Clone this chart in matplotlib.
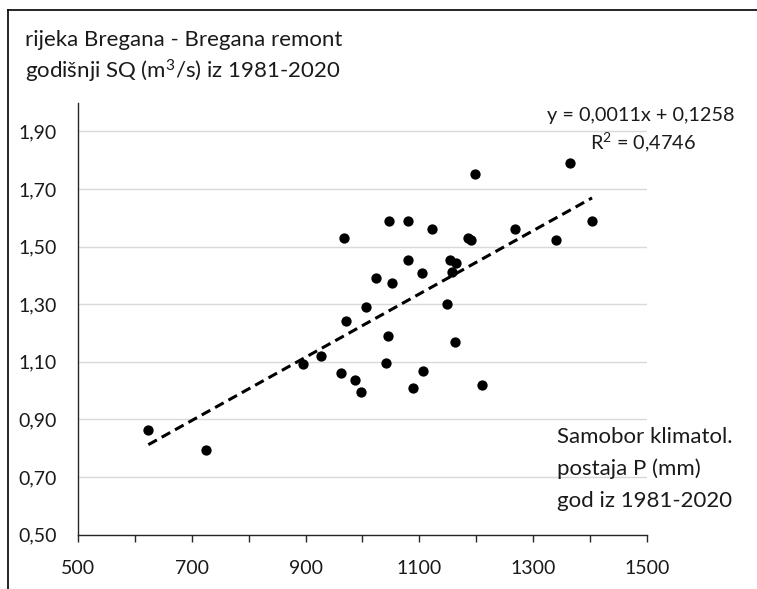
import matplotlib
matplotlib.use("Agg")
import matplotlib.pyplot as plt
from matplotlib.lines import Line2D
from matplotlib.ticker import FixedLocator, MultipleLocator, FuncFormatter

plt.rcParams['font.family'] = ['Lato', 'DejaVu Sans']
plt.rcParams['mathtext.fontset'] = 'custom'
plt.rcParams['mathtext.rm'] = 'Lato'
plt.rcParams['mathtext.it'] = 'Lato'
plt.rcParams['mathtext.default'] = 'rm'

# ── data ─────────────────────────────────────────────────────────────────────
precip_mm = [624, 726, 896, 927, 963, 986, 997, 1042, 1044, 1107, 1088, 1162,
             1210, 971, 1007, 1051, 1024, 1105, 1158, 1164, 1154, 1080, 1149,
             967, 1047, 1080, 1122, 1186, 1190, 1268, 1198, 1365, 1403, 1340]
flow_sq = [0.862, 0.794, 1.091, 1.120, 1.060, 1.037, 0.996, 1.097, 1.189,
           1.067, 1.008, 1.169, 1.020, 1.241, 1.290, 1.373, 1.392, 1.409,
           1.411, 1.442, 1.452, 1.452, 1.301, 1.530, 1.589, 1.589, 1.560,
           1.531, 1.523, 1.560, 1.751, 1.791, 1.589, 1.522]
slope, intercept = 0.0011, 0.1258
eq_text = "y = 0,0011x + 0,1258"
r2_text = r"R$^{2}$ = 0,4746"
title_lines = ["rijeka Bregana - Bregana remont", r"godišnji SQ (m$^{3}$/s) iz 1981-2020"]
xlabel_lines = ["Samobor klimatol.", "postaja P (mm)", "god iz 1981-2020"]
x_ticks = [500, 700, 900, 1100, 1300, 1500]
y_ticks = [0.5, 0.7, 0.9, 1.1, 1.3, 1.5, 1.7, 1.9]

TXT = '#1a1a1a'
W, H = 757, 589

fig = plt.figure(figsize=(W / 100, H / 100), dpi=100)
ax = fig.add_axes([77.7 / W, 1 - 534.6 / H, (647.3 - 77.7) / W, (534.6 - 102.6) / H])

ax.set_xlim(500, 1500)
ax.set_ylim(0.5, 2.0)
ax.xaxis.set_major_locator(FixedLocator(x_ticks))
ax.xaxis.set_minor_locator(MultipleLocator(100))
ax.set_yticks(y_ticks)
ax.yaxis.set_major_formatter(FuncFormatter(lambda v, p: f"{v:.2f}".replace('.', ',')))

ax.grid(axis='y', color='#d9d9d9', linewidth=1.0)
ax.set_axisbelow(True)
for s in ['top', 'right']:
    ax.spines[s].set_visible(False)
for s in ['left', 'bottom']:
    ax.spines[s].set_color('#262626')
    ax.spines[s].set_linewidth(1.0)

ax.tick_params(axis='x', which='both', direction='out', length=5, width=1.0,
               color='#262626', labelsize=14, labelcolor=TXT, pad=13)
ax.tick_params(axis='y', length=0, labelsize=14, labelcolor=TXT, pad=15)

# points
ax.scatter(precip_mm, flow_sq, s=55, color='black', zorder=3, linewidths=0)

# linear trend line
x0, x1 = min(precip_mm), max(precip_mm)
ax.plot([x0, x1], [slope * x0 + intercept, slope * x1 + intercept],
        color='black', linewidth=2.2, dashes=(3.2, 1.8), zorder=2,
        solid_capstyle='butt')

# equation labels
fig.text(641 / W, 1 - 115 / H, eq_text, ha='center', va='center',
         fontsize=14.3, color=TXT)
fig.text(643 / W, 1 - 142 / H, r2_text, ha='center', va='center',
         fontsize=14.3, color=TXT)

# title
fig.text(25 / W, 1 - 40 / H, title_lines[0], ha='left', va='center',
         fontsize=16, color=TXT)
fig.text(25 / W, 1 - 71 / H, title_lines[1], ha='left', va='center',
         fontsize=16, color=TXT)

# x-axis description
for i, t in enumerate(xlabel_lines):
    fig.text(557 / W, 1 - (437 + 32 * i) / H, t, ha='left', va='center',
             fontsize=16, color=TXT)

# outer frame (top and left only)
fig.add_artist(Line2D([8.3 / W, 1], [1 - 9.5 / H, 1 - 9.5 / H],
                      transform=fig.transFigure, color='black', linewidth=1.2))
fig.add_artist(Line2D([8.3 / W, 8.3 / W], [0, 1 - 9.5 / H],
                      transform=fig.transFigure, color='black', linewidth=1.2))

fig.savefig("out.png", dpi=100)
